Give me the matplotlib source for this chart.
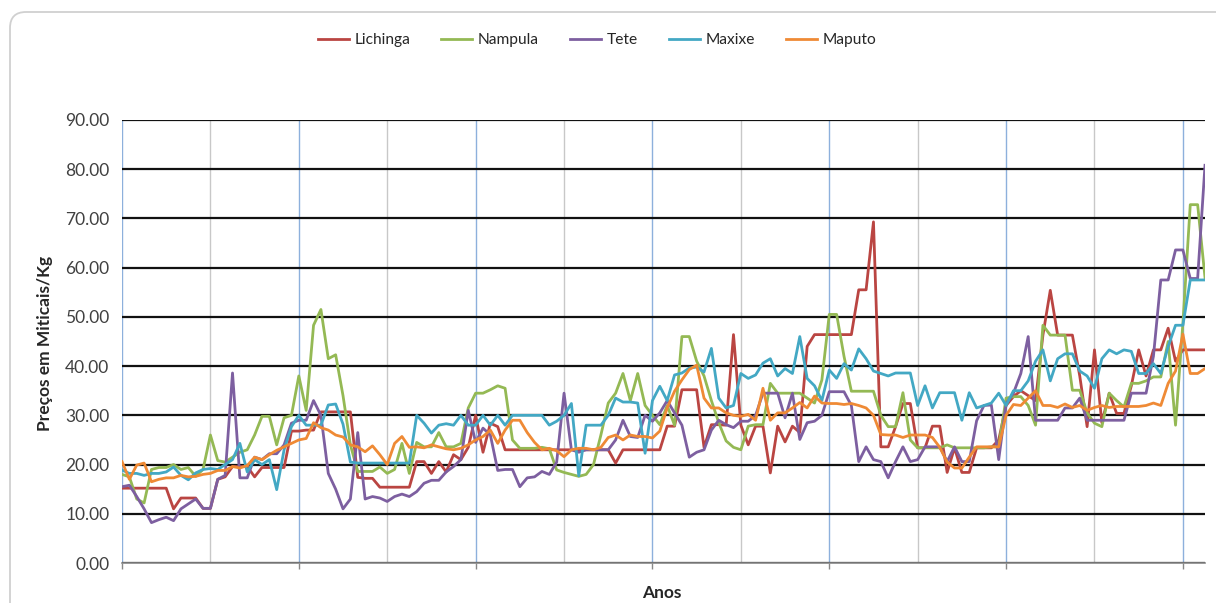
import numpy as np
import matplotlib
matplotlib.use("Agg")
import matplotlib.pyplot as plt
from matplotlib.patches import FancyBboxPatch
from matplotlib.transforms import IdentityTransform
from matplotlib.ticker import MultipleLocator, FormatStrFormatter

# ---- data (half-monthly price series, Meticais/Kg) ----
series_names = ["Lichinga", "Nampula", "Tete", "Maxixe", "Maputo"]

lichinga = [
    15.2, 15.2, 15.2, 15.2, 15.2, 15.2, 15.2, 11.0, 13.2, 13.2, 13.2, 11.1, 11.1, 17.0, 17.5, 19.6, 19.6, 19.6, 17.5, 19.4, 19.4, 19.4, 19.4, 26.8, 26.8,
    27.0, 27.0, 30.7, 30.7, 30.7, 30.7, 30.7, 17.4, 17.2, 17.2, 15.4, 15.4, 15.4, 15.4, 15.4, 20.6, 20.6, 18.2, 20.6, 18.5, 22.0, 21.0, 23.5, 30.0,
    22.5, 28.4, 27.7, 23.0, 23.0, 23.0, 23.0, 23.0, 23.0, 23.0, 23.0, 23.0, 23.0, 23.0, 23.0, 23.0, 23.0, 23.0, 20.3, 23.0, 23.0, 23.0, 23.0, 23.0,
    23.0, 27.8, 27.8, 35.2, 35.2, 35.2, 23.5, 28.1, 28.1, 28.0, 46.4, 28.0, 24.0, 27.8, 27.8, 18.3, 27.8, 24.6, 27.8, 26.5, 44.0, 46.4, 46.4, 46.4,
    46.4, 46.4, 46.4, 55.5, 55.5, 69.3, 23.6, 23.6, 27.7, 32.4, 32.4, 23.4, 23.4, 27.8, 27.8, 18.4, 23.4, 18.4, 18.4, 23.4, 23.4, 23.4, 25.0, 32.0,
    33.8, 35.0, 34.0, 33.0, 46.3, 55.4, 46.3, 46.3, 46.3, 38.0, 27.7, 43.3, 28.5, 34.5, 30.4, 30.4, 36.0, 43.3, 38.0, 43.3, 43.3, 47.7, 41.0, 43.3, 43.3, 43.3, 43.3,
]
nampula = [
    18.0, 17.5, 13.0, 12.2, 19.0, 19.4, 19.4, 20.0, 19.0, 19.4, 17.6, 19.0, 26.0, 20.8, 20.5, 21.5, 22.5, 23.0, 26.0, 29.8, 29.8, 24.0, 29.5, 30.0, 38.0,
    31.0, 48.3, 51.5, 41.5, 42.3, 34.0, 24.0, 18.6, 18.6, 18.6, 19.5, 18.2, 19.0, 24.3, 18.2, 24.5, 23.6, 23.6, 26.5, 23.6, 23.6, 24.3, 31.5, 34.5,
    34.5, 35.2, 36.0, 35.5, 25.0, 23.3, 23.3, 23.3, 23.5, 23.2, 18.9, 18.4, 18.0, 17.6, 18.0, 20.0, 26.0, 32.5, 34.5, 38.5, 33.0, 38.5, 32.0, 30.0,
    28.1, 32.0, 28.0, 46.0, 46.0, 41.0, 38.0, 33.0, 28.5, 24.8, 23.5, 23.0, 27.8, 28.1, 28.1, 36.5, 34.5, 34.5, 34.5, 34.5, 33.5, 32.5, 37.2, 50.5,
    50.5, 42.0, 34.9, 34.9, 34.9, 34.9, 30.0, 27.7, 27.7, 34.6, 25.0, 23.4, 23.4, 23.4, 23.4, 24.0, 23.4, 23.4, 23.4, 23.4, 23.4, 23.6, 23.6, 33.5,
    33.8, 33.8, 32.0, 28.0, 48.3, 46.3, 46.3, 46.3, 35.1, 35.1, 30.5, 28.4, 27.7, 34.5, 33.0, 31.7, 36.5, 36.5, 37.0, 37.8, 37.8, 45.0, 28.0, 48.7, 72.8, 72.8, 58.0,
]
tete = [
    15.5, 15.8, 13.5, 11.0, 8.2, 8.8, 9.3, 8.6, 11.0, 12.0, 13.0, 11.1, 11.1, 17.0, 17.8, 38.6, 17.3, 17.3, 21.5, 21.0, 22.2, 22.2, 24.0, 28.4, 29.0,
    29.0, 33.0, 30.0, 18.2, 15.0, 11.0, 13.0, 26.5, 13.0, 13.5, 13.2, 12.5, 13.5, 14.0, 13.5, 14.5, 16.2, 16.8, 16.8, 18.5, 19.6, 21.0, 31.0, 24.5,
    27.4, 26.0, 18.8, 19.0, 19.0, 15.5, 17.3, 17.5, 18.6, 18.0, 20.5, 34.5, 23.0, 22.5, 23.0, 23.0, 23.0, 23.0, 25.0, 29.0, 25.7, 25.5, 30.0, 28.8,
    30.5, 33.0, 30.5, 28.0, 21.5, 22.5, 23.0, 27.0, 29.0, 28.1, 27.5, 28.8, 28.8, 30.0, 34.5, 34.5, 34.5, 29.5, 34.5, 25.1, 28.5, 28.8, 30.0, 34.8,
    34.8, 34.8, 32.0, 20.6, 23.6, 21.0, 20.6, 17.3, 20.6, 23.6, 20.6, 21.0, 23.6, 23.6, 23.6, 20.6, 23.6, 20.6, 20.6, 28.9, 32.0, 32.1, 21.0, 32.4,
    34.5, 38.5, 46.0, 29.0, 29.0, 29.0, 29.0, 31.5, 31.5, 33.5, 29.0, 29.0, 29.0, 29.0, 29.0, 29.0, 34.5, 34.5, 34.5, 42.0, 57.5, 57.5, 63.6, 63.6, 57.8, 57.8, 80.8,
]
maxixe = [
    18.9, 18.2, 18.2, 17.8, 18.2, 18.2, 18.5, 19.5, 17.8, 16.9, 18.3, 19.0, 19.2, 19.0, 20.0, 21.0, 24.3, 18.5, 21.0, 20.0, 21.0, 14.9, 23.0, 27.7, 30.0,
    28.0, 28.0, 28.0, 32.1, 32.3, 28.2, 20.5, 20.3, 20.3, 20.3, 20.3, 20.3, 20.3, 20.3, 20.3, 30.0, 28.4, 26.4, 28.0, 28.3, 28.0, 30.0, 28.0, 28.0,
    30.0, 28.0, 30.0, 28.0, 30.0, 30.0, 30.0, 30.0, 30.0, 28.0, 28.8, 30.0, 32.4, 17.7, 28.0, 28.0, 28.0, 30.0, 33.5, 32.7, 32.7, 32.5, 22.3, 33.0,
    35.9, 33.0, 38.2, 38.6, 39.6, 39.8, 38.8, 43.6, 33.5, 31.5, 32.0, 38.5, 37.5, 38.2, 40.6, 41.5, 38.0, 39.5, 38.5, 46.0, 37.5, 36.0, 33.0, 39.2,
    37.5, 40.5, 39.2, 43.5, 41.5, 39.0, 38.5, 38.0, 38.6, 38.6, 38.6, 32.0, 36.0, 31.5, 34.6, 34.6, 34.6, 29.0, 34.6, 31.5, 32.0, 32.5, 34.5, 32.0,
    35.0, 35.0, 37.0, 41.0, 43.3, 37.0, 41.5, 42.5, 42.5, 39.0, 38.0, 35.5, 41.5, 43.3, 42.5, 43.3, 43.0, 38.5, 38.5, 40.5, 38.5, 44.0, 48.3, 48.3, 57.5, 57.5, 57.5,
]
maputo = [
    20.6, 17.0, 19.9, 20.3, 16.5, 17.0, 17.3, 17.3, 17.8, 17.5, 17.6, 18.0, 18.2, 18.8, 18.8, 19.6, 19.3, 19.8, 21.5, 21.0, 22.0, 22.9, 23.6, 24.3, 25.0,
    25.3, 28.5, 27.5, 27.0, 26.0, 25.6, 24.0, 23.6, 22.6, 23.8, 22.0, 20.0, 24.3, 25.7, 23.5, 23.6, 23.4, 24.0, 23.6, 23.2, 23.0, 23.3, 24.0, 25.0,
    25.7, 27.0, 24.3, 27.0, 29.0, 29.0, 26.5, 24.5, 23.0, 23.3, 22.8, 21.6, 23.0, 23.3, 23.3, 23.0, 23.5, 25.5, 26.0, 25.0, 26.0, 25.7, 25.7, 25.4,
    26.8, 31.5, 34.9, 37.2, 39.3, 40.2, 33.5, 31.5, 31.5, 30.5, 30.0, 29.8, 30.2, 29.0, 35.5, 29.0, 30.5, 30.5, 31.5, 32.6, 31.5, 33.9, 32.5, 32.4,
    32.4, 32.2, 32.4, 32.0, 31.5, 30.0, 26.1, 26.0, 26.0, 25.5, 26.0, 26.0, 26.0, 25.5, 23.5, 20.5, 19.3, 19.3, 21.5, 23.6, 23.6, 23.6, 23.6, 30.0,
    32.2, 32.0, 33.5, 35.0, 32.0, 32.0, 31.6, 32.3, 31.6, 32.0, 31.0, 31.6, 32.0, 31.6, 31.8, 31.8, 31.8, 31.8, 32.0, 32.5, 32.0, 36.5, 39.0, 46.5, 38.5, 38.5, 39.5,
]

series = [lichinga, nampula, tete, maxixe, maputo]
colors = ["#BA4542", "#94B954", "#7D5FA0", "#43A8C4", "#EF8A35"]
y_ticks = [0, 10, 20, 30, 40, 50, 60, 70, 80, 90]
periods_per_year = 24

lengths = [len(s) for s in series]
if len(set(lengths)) != 1:
    raise SystemExit(f"length mismatch: {dict(zip(series_names, lengths))}")

# ---- figure ----
W, H = 1216, 603
fig = plt.figure(figsize=(W / 100, H / 100), dpi=100)
plt.rcParams["font.family"] = ["Lato", "DejaVu Sans"]

border = FancyBboxPatch((10, -30), 1260, 603 - 12 + 30,
                        boxstyle="round,pad=0,rounding_size=16",
                        transform=IdentityTransform(), facecolor="none",
                        edgecolor="#D0D0D0", linewidth=1.3, zorder=-1)
fig.patches.append(border)

left, right, top, bottom = 122, 1205, 120, 563
ax = fig.add_axes([left / W, 1 - bottom / H, (right - left) / W, (bottom - top) / H])
ax.set_facecolor("none")

n = lengths[0]
x = np.arange(n)
for name, vals, c in zip(series_names, series, colors):
    ax.plot(x, vals, color=c, lw=2.0, label=name, solid_joinstyle="round", zorder=3)

ax.set_xlim(0, n - 1)
ax.set_ylim(0, 90)
ax.set_yticks(y_ticks)
ax.yaxis.set_major_formatter(FormatStrFormatter("%.2f"))
ax.xaxis.set_major_locator(MultipleLocator(periods_per_year))
ax.xaxis.set_minor_locator(MultipleLocator(periods_per_year / 2))
ax.set_xticklabels([])

ax.set_axisbelow(True)
ax.grid(axis="y", which="major", color="#111111", lw=1.6)
ax.grid(axis="x", which="major", color="#8DB0DC", lw=1.0)
ax.grid(axis="x", which="minor", color="#C8C8C8", lw=1.0)

for s in ["left", "right", "top"]:
    ax.spines[s].set_visible(False)
ax.spines["bottom"].set_color("#888888")
ax.spines["bottom"].set_linewidth(1.2)
ax.tick_params(axis="y", length=0, pad=9, labelsize=12.5, labelcolor="#404040")
ax.tick_params(axis="x", which="major", length=4.5, color="#888888", width=1, direction="out")
ax.tick_params(axis="x", which="minor", length=0)

fig.text(45 / W, 1 - 343 / H, "Preços em Miticais/Kg", rotation=90, ha="center", va="center",
         fontsize=12.5, fontweight="bold", color="#262626")
fig.text(662 / W, 1 - 593 / H, "Anos", ha="center", va="center",
         fontsize=12.5, fontweight="bold", color="#262626")

fig.legend(loc="center", bbox_to_anchor=(597 / W, 1 - 40 / H), ncol=5, frameon=False,
           fontsize=11.2, handlelength=2.0, handletextpad=0.35, columnspacing=2.0,
           labelcolor="#262626")

fig.savefig("out.png", dpi=100)
